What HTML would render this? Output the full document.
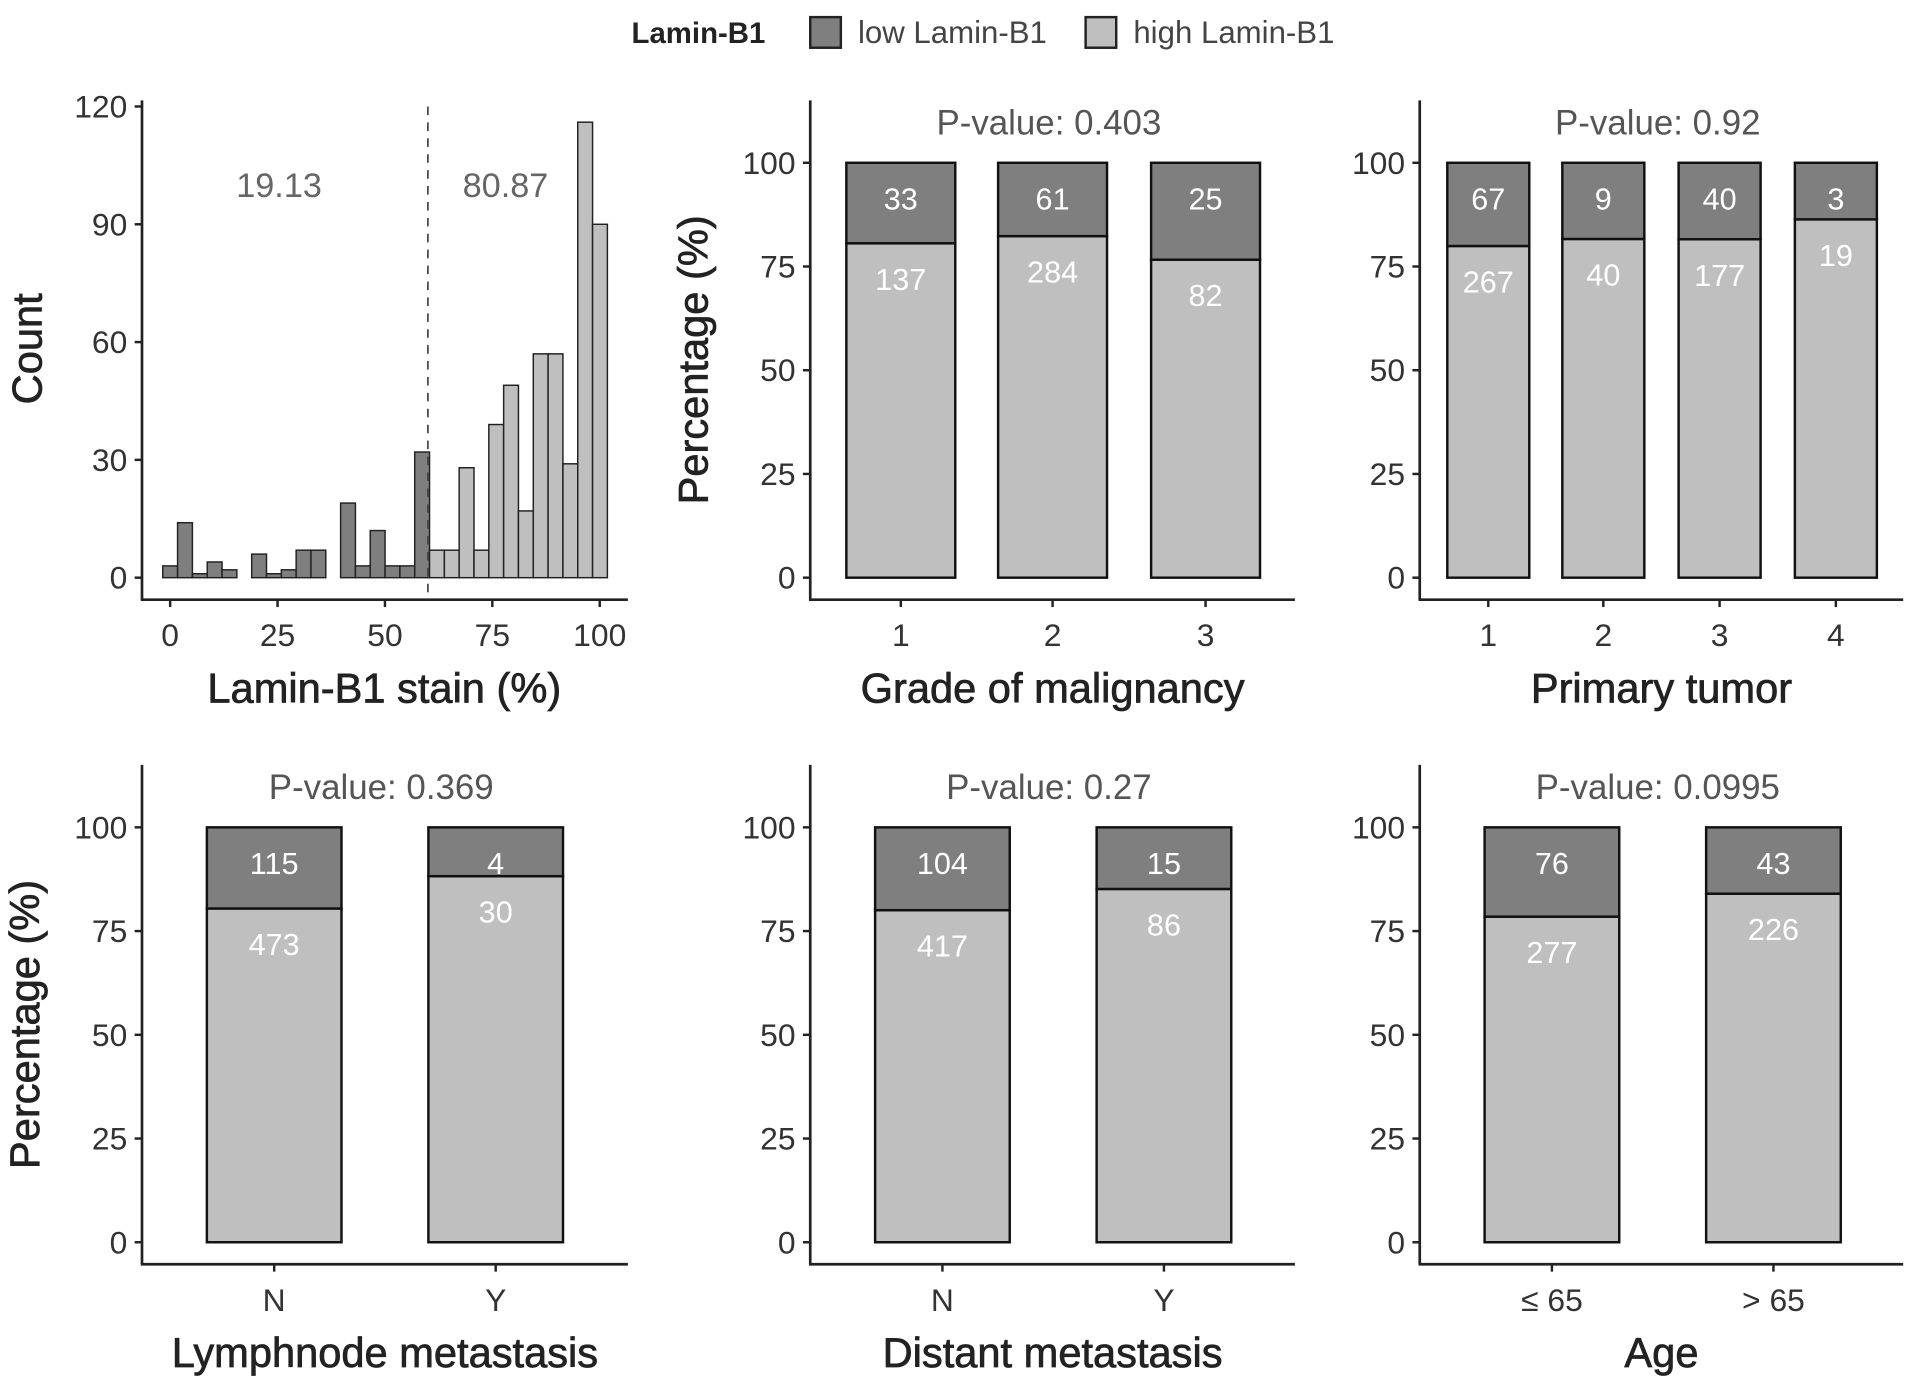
<!DOCTYPE html>
<html><head><meta charset="utf-8"><style>
html,body{margin:0;padding:0;background:#fff}
svg{display:block}
text{font-family:"Liberation Sans",Arial,sans-serif}
</style></head><body>
<svg id="fig" width="1913" height="1383" viewBox="0 0 1563 1130" xmlns="http://www.w3.org/2000/svg">
<g>
<text x="516" y="35" font-size="24" font-weight="bold" fill="#222">Lamin-B1</text>
<rect x="662" y="14" width="25" height="25" fill="#7f7f7f" stroke="#222" stroke-width="2"/>
<text x="701" y="35" font-size="25.5" fill="#444">low Lamin-B1</text>
<rect x="887" y="14" width="25" height="25" fill="#bfbfbf" stroke="#222" stroke-width="2"/>
<text x="926" y="35" font-size="25.5" fill="#444">high Lamin-B1</text>
</g>
</svg>
<script>
// Histogram data
const histCounts=[3,14,1,4,2,0,6,1,2,7,7,0,19,3,12,3,3,32,7,7,28,7,39,49,17,57,57,29,116,90];
const histTicks=[0,25,50,75,100];
const countTicks=[0,30,60,90,120];
const cutoff=60;
const pctLow="19.13", pctHigh="80.87";
// Stacked bar data
const gradeCats=["1","2","3"], gradeLow=[33,61,25], gradeHigh=[137,284,82];
const tumorCats=["1","2","3","4"], tumorLow=[67,9,40,3], tumorHigh=[267,40,177,19];
const lymphCats=["N","Y"], lymphLow=[115,4], lymphHigh=[473,30];
const distCats=["N","Y"], distLow=[104,15], distHigh=[417,86];
const ageCats=["≤ 65","> 65"], ageLow=[76,43], ageHigh=[277,226];
const pctTicks=[0,25,50,75,100];

const svg=document.getElementById('fig');
const NS="http://www.w3.org/2000/svg";
const TICK=26, TITLE=34;
function el(tag,attrs,parent,txt){const e=document.createElementNS(NS,tag);for(const k in attrs)e.setAttribute(k,attrs[k]);if(txt!==undefined)e.textContent=txt;(parent||svg).appendChild(e);return e;}

function axes(g,x0,x1,yTop,yAx){
  const a=el('line',{x1:x0,y1:yTop,x2:x0,y2:yAx,stroke:'#222','stroke-width':2.2},g);
  
  
  const b=el('line',{x1:x0-1,y1:yAx,x2:x1,y2:yAx,stroke:'#222','stroke-width':2.2},g);
  
  
}

// Histogram panel
(function(){
  const g=el('g',{});
  
  
  const X0=116,Y0=472,yTop=82,yAx=490;
  const xs=v=>139+v*3.51;
  const ys=v=>Y0-v*(Y0-87)/120;
  axes(g,X0,513,yTop,yAx);
  const bw=3.45, start=-1.72;
  histCounts.forEach((c,i)=>{
    const l=start+i*bw, r=l+bw;
    const rc=el('rect',{x:xs(l),y:ys(c),width:xs(r)-xs(l),height:Y0-ys(c),fill:(l+bw/2<cutoff)?'#7f7f7f':'#bfbfbf',stroke:'#222','stroke-width':1.2},g);
    
    
  });
  const d=el('line',{x1:xs(cutoff),y1:87,x2:xs(cutoff),y2:yAx,stroke:'#444','stroke-width':1.4,'stroke-dasharray':'7,6'},g);
  
  
  countTicks.forEach(t=>{
    el('line',{x1:X0-6,y1:ys(t),x2:X0,y2:ys(t),stroke:'#222','stroke-width':2},g);
    const tx=el('text',{x:X0-12,y:ys(t)+9,'font-size':TICK,fill:'#333','text-anchor':'end'},g,t);
    
    
  });
  histTicks.forEach(t=>{
    el('line',{x1:xs(t),y1:yAx,x2:xs(t),y2:yAx+6,stroke:'#222','stroke-width':2},g);
    const tx=el('text',{x:xs(t),y:yAx+38,'font-size':TICK,fill:'#333','text-anchor':'middle'},g,t);
    
    
  });
  const a=el('text',{x:228,y:161,'font-size':28,fill:'#666','text-anchor':'middle'},g,pctLow);
  
  
  const b=el('text',{x:413,y:161,'font-size':28,fill:'#666','text-anchor':'middle'},g,pctHigh);
  
  
  const xt=el('text',{x:314,y:574,'font-size':TITLE,fill:'#222','text-anchor':'middle',stroke:'#222','stroke-width':0.6},g,'Lamin-B1 stain (%)');
  
  
  const yt=el('text',{x:0,y:0,'font-size':TITLE,fill:'#222','text-anchor':'middle',stroke:'#222','stroke-width':0.6,transform:'translate(34,285) rotate(-90)'},g,'Count');
  
  
})();

function stacked(name,X0,X1,yTop,cats,low,high,centers,bw,pval,title,ylabel){
  const g=el('g',{});
  
  
  const yAx=yTop+408, Y0=yTop+390, Y100=yTop+51;
  const ys=p=>Y0-p*(Y0-Y100)/100;
  axes(g,X0,X1,yTop,yAx);
  pctTicks.forEach(t=>{
    el('line',{x1:X0-6,y1:ys(t),x2:X0,y2:ys(t),stroke:'#222','stroke-width':2},g);
    const tx=el('text',{x:X0-12,y:ys(t)+9,'font-size':TICK,fill:'#333','text-anchor':'end'},g,t);
    
    
  });
  cats.forEach((c,i)=>{
    const cx=centers[i], tot=low[i]+high[i], pl=low[i]/tot*100, ph=100-pl;
    const r1=el('rect',{x:cx-bw/2,y:ys(ph),width:bw,height:Y0-ys(ph),fill:'#bfbfbf',stroke:'#111','stroke-width':2},g);
    
    
    const r2=el('rect',{x:cx-bw/2,y:ys(100),width:bw,height:ys(ph)-ys(100),fill:'#7f7f7f',stroke:'#111','stroke-width':2},g);
    
    
    const t1=el('text',{x:cx,y:ys(100)+38,'font-size':25,fill:'#fff','text-anchor':'middle'},g,low[i]);
    
    
    const t2=el('text',{x:cx,y:ys(ph)+38,'font-size':25,fill:'#fff','text-anchor':'middle'},g,high[i]);
    
    
    el('line',{x1:cx,y1:yAx,x2:cx,y2:yAx+6,stroke:'#222','stroke-width':2},g);
    const tx=el('text',{x:cx,y:yAx+38,'font-size':TICK,fill:'#333','text-anchor':'middle'},g,c);
    
    
  });
  const mid=(X0+X1)/2;
  const pv=el('text',{x:mid-3,y:yTop+28,'font-size':28.5,fill:'#555','text-anchor':'middle'},g,pval);
  
  
  const xt=el('text',{x:mid,y:yTop+492,'font-size':TITLE,fill:'#222','text-anchor':'middle',stroke:'#222','stroke-width':0.6},g,title);
  
  
  if(ylabel){
    const yt=el('text',{x:0,y:0,'font-size':TITLE,fill:'#222','text-anchor':'middle',stroke:'#222','stroke-width':0.6,transform:'translate('+(X0-84)+','+(yTop+212)+') rotate(-90)'},g,'Percentage (%)');
    
    
  }
}
stacked('grade',662,1058,82,gradeCats,gradeLow,gradeHigh,[736,860,985],89,'P-value: 0.403','Grade of malignancy',true);
stacked('tumor',1160,1555,82,tumorCats,tumorLow,tumorHigh,[1216,1310,1405,1500],67,'P-value:  0.92','Primary tumor',false);
stacked('lymph',116,513,625,lymphCats,lymphLow,lymphHigh,[224,405],110,'P-value: 0.369','Lymphnode metastasis',true);
stacked('distant',662,1058,625,distCats,distLow,distHigh,[770,951],110,'P-value:  0.27','Distant metastasis',false);
stacked('age',1160,1555,625,ageCats,ageLow,ageHigh,[1268,1449],110,'P-value:  0.0995','Age',false);
</script>
</body></html>
